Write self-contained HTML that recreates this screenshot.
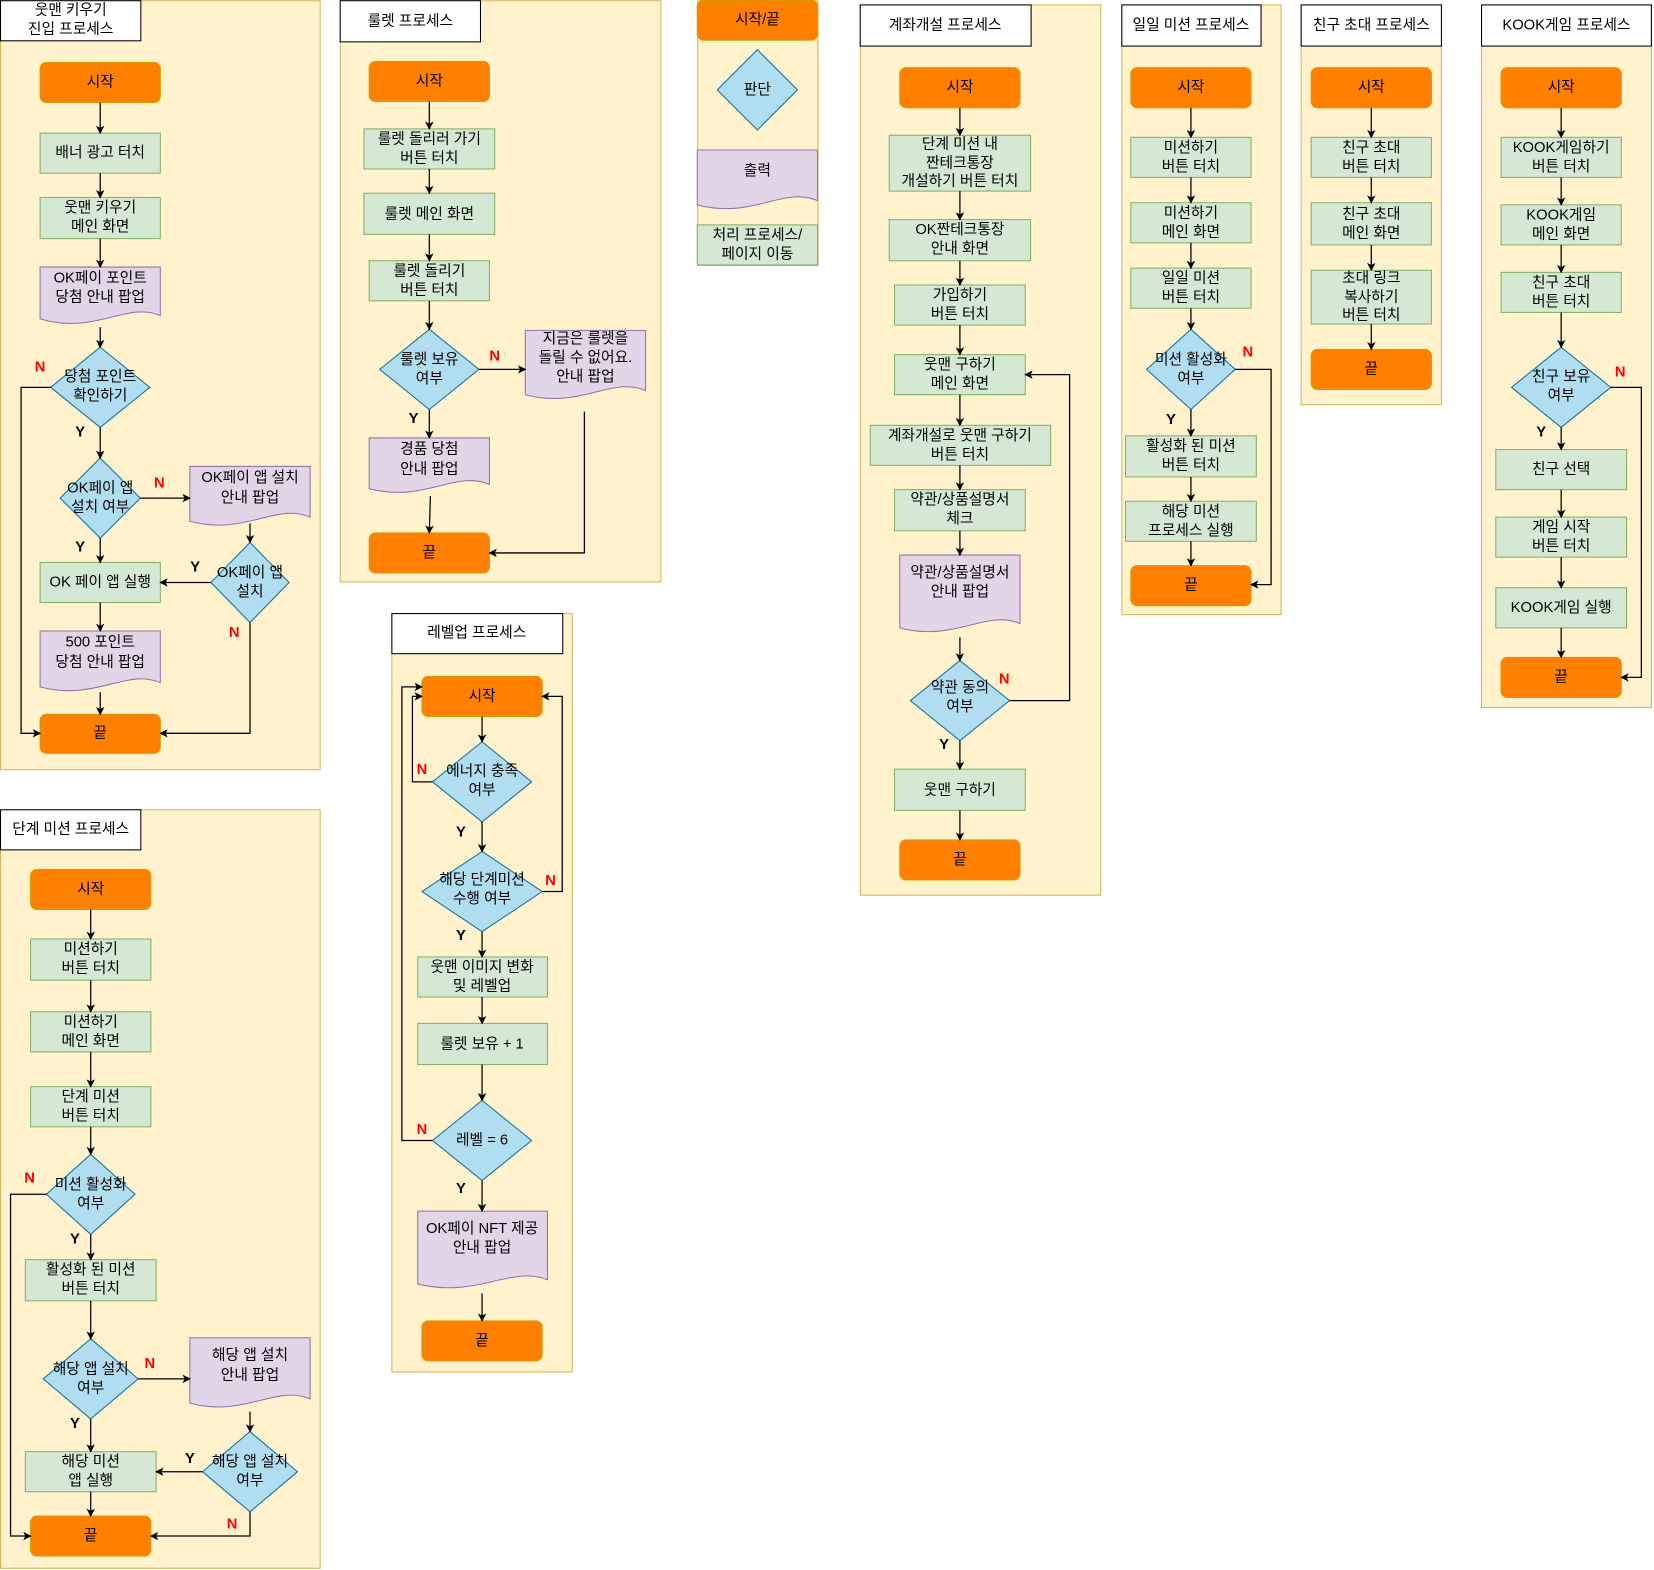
<!DOCTYPE html>
<html><head><meta charset="utf-8"><style>
html,body{margin:0;padding:0;background:#fff}
svg{display:block}
text{font-family:"Liberation Sans","Noto Sans CJK KR",sans-serif;font-size:14px;text-anchor:middle;dominant-baseline:central;fill:#000}
.c{fill:#fff2cc;stroke:#d6b656;stroke-width:1}
.t{fill:#fff;stroke:#000;stroke-width:1}
.o{fill:#ff8000;stroke:#d79b00}
.g{fill:#d5e8d4;stroke:#82b366}
.p{fill:#e1d5e7;stroke:#9673a6}
.d{fill:#b1ddf0;stroke:#10739e}
.e{fill:none;stroke:#000;stroke-width:1.2;marker-end:url(#a)}
.l{fill:none;stroke:#000;stroke-width:1.2}
.n{fill:#f00;font-weight:bold}
.y{font-weight:bold}
</style></head><body>
<svg width="1654" height="1570" viewBox="0 0 1568 1488" xmlns="http://www.w3.org/2000/svg">
<defs><marker id="a" markerWidth="8" markerHeight="8" refX="7" refY="4" orient="auto" markerUnits="userSpaceOnUse"><path d="M0,0 L8,4 L0,8 L2,4 z" fill="#000"/></marker></defs>

<!-- Panel 1 -->
<rect class="c" x="0.5" y="0.5" width="303" height="729"/>
<rect class="t" x="0.5" y="0.5" width="133" height="38"/>
<text x="67" y="10">웃맨 키우기</text><text x="67" y="28">진입 프로세스</text>
<rect class="o" x="38" y="59" width="114" height="38" rx="6"/><text x="95" y="78">시작</text>
<rect class="g" x="38" y="126" width="114" height="38"/><text x="95" y="145">배너 광고 터치</text>
<rect class="g" x="38" y="187" width="114" height="39"/><text x="95" y="197">웃맨 키우기</text><text x="95" y="215">메인 화면</text>
<path class="p" d="M38,253 H152 V299 C120,285 90,318 38,302 Z"/><text x="95" y="264">OK페이 포인트</text><text x="95" y="282">당첨 안내 팝업</text>
<path class="d" d="M95,329 L142,367 L95,405 L48,367 Z"/><text x="95" y="357">당첨 포인트</text><text x="95" y="375">확인하기</text>
<path class="d" d="M95,434 L133,472 L95,510 L57,472 Z"/><text x="95" y="463">OK페이 앱</text><text x="95" y="481">설치 여부</text>
<path class="p" d="M180,442 H294 V490 C262,476 232,508 180,494 Z"/><text x="237" y="453">OK페이 앱 설치</text><text x="237" y="472">안내 팝업</text>
<path class="d" d="M237,514 L274,552 L237,590 L200,552 Z"/><text x="237" y="543">OK페이 앱</text><text x="237" y="561">설치</text>
<rect class="g" x="38" y="533" width="114" height="38"/><text x="95" y="552">OK 페이 앱 실행</text>
<path class="p" d="M38,598 H152 V647 C120,633 90,665 38,651 Z"/><text x="95" y="609">500 포인트</text><text x="95" y="628">당첨 안내 팝업</text>
<rect class="o" x="38" y="677" width="114" height="37" rx="6"/><text x="95" y="695">끝</text>
<path class="e" d="M95,97 V126"/><path class="e" d="M95,164 V187"/><path class="e" d="M95,226 V253"/>
<path class="e" d="M95,310 V329"/><path class="e" d="M95,405 V434"/><path class="e" d="M95,510 V533"/>
<path class="e" d="M95,571 V598"/><path class="e" d="M95,656 V677"/>
<path class="e" d="M48,367 H20 V695 H38"/><path class="e" d="M133,472 H180"/>
<path class="e" d="M237,496 V514"/><path class="e" d="M200,552 H152"/><path class="e" d="M237,590 V695 H152"/>
<text class="n" x="38" y="348">N</text><text class="y" x="76" y="410">Y</text>
<text class="n" x="151" y="458">N</text><text class="y" x="76" y="519">Y</text>
<text class="y" x="185" y="538">Y</text><text class="n" x="222" y="600">N</text>

<!-- Panel 2 -->
<rect class="c" x="322.5" y="0.5" width="304" height="551"/>
<rect class="t" x="322.5" y="0.5" width="133" height="39"/><text x="389" y="20">룰렛 프로세스</text>
<rect class="o" x="350" y="58" width="114" height="38" rx="6"/><text x="407" y="77">시작</text>
<rect class="g" x="345" y="122" width="124" height="38"/><text x="407" y="132">룰렛 돌리러 가기</text><text x="407" y="150">버튼 터치</text>
<rect class="g" x="345" y="183" width="124" height="39"/><text x="407" y="203">룰렛 메인 화면</text>
<rect class="g" x="350" y="247" width="114" height="38"/><text x="407" y="257">룰렛 돌리기</text><text x="407" y="275">버튼 터치</text>
<path class="d" d="M407,312 L454,350 L407,388 L360,350 Z"/><text x="407" y="341">룰렛 보유</text><text x="407" y="359">여부</text>
<path class="p" d="M498,313 H612 V370 C580,356 550,388 498,374 Z"/><text x="555" y="321">지금은 룰렛을</text><text x="555" y="339">돌릴 수 없어요.</text><text x="555" y="357">안내 팝업</text>
<path class="p" d="M350,415 H464 V459 C432,445 402,477 350,463 Z"/><text x="407" y="426">경품 당첨</text><text x="407" y="445">안내 팝업</text>
<rect class="o" x="350" y="505" width="114" height="38" rx="6"/><text x="407" y="524">끝</text>
<path class="e" d="M407,96 V122"/><path class="e" d="M407,160 V183"/><path class="e" d="M407,222 V247"/>
<path class="e" d="M407,285 V312"/><path class="e" d="M407,388 V415"/><path class="e" d="M408,470 L407,505"/>
<path class="e" d="M454,350 H498"/><path class="e" d="M554,390 V524 H464"/>
<text class="n" x="469" y="338">N</text><text class="y" x="392" y="397">Y</text>

<!-- Legend -->
<rect class="c" x="661.5" y="0.5" width="114" height="251"/>
<rect class="o" x="661" y="0" width="114" height="38" rx="6"/><text x="718" y="19">시작/끝</text>
<path class="d" d="M718,47 L756,85 L718,123 L680,85 Z"/><text x="718" y="85">판단</text>
<path class="p" d="M661,142 H775 V190 C743,176 713,208 661,194 Z"/><text x="718" y="162">출력</text>
<rect class="g" x="661" y="213" width="114" height="38"/><text x="718" y="223">처리 프로세스/</text><text x="718" y="241">페이지 이동</text>

<!-- Panel 3 -->
<rect class="c" x="815.5" y="4.5" width="228" height="844"/>
<rect class="t" x="815.5" y="4.5" width="162" height="39"/><text x="896" y="24">계좌개설 프로세스</text>
<rect class="o" x="853" y="64" width="114" height="38" rx="6"/><text x="910" y="83">시작</text>
<rect class="g" x="843" y="128" width="134" height="53"/><text x="910" y="137">단계 미션 내</text><text x="910" y="155">짠테크통장</text><text x="910" y="172">개설하기 버튼 터치</text>
<rect class="g" x="843" y="208" width="134" height="39"/><text x="910" y="218">OK짠테크통장</text><text x="910" y="236">안내 화면</text>
<rect class="g" x="848" y="270" width="124" height="38"/><text x="910" y="280">가입하기</text><text x="910" y="298">버튼 터치</text>
<rect class="g" x="848" y="336" width="124" height="38"/><text x="910" y="346">웃맨 구하기</text><text x="910" y="364">메인 화면</text>
<rect class="g" x="825" y="403" width="171" height="38"/><text x="910" y="413">계좌개설로 웃맨 구하기</text><text x="910" y="431">버튼 터치</text>
<rect class="g" x="848" y="464" width="124" height="39"/><text x="910" y="474">약관/상품설명서</text><text x="910" y="492">체크</text>
<path class="p" d="M853,526 H967 V591 C935,577 905,609 853,595 Z"/><text x="910" y="543">약관/상품설명서</text><text x="910" y="561">안내 팝업</text>
<path class="d" d="M910,626 L957,664 L910,702 L863,664 Z"/><text x="910" y="652">약관 동의</text><text x="910" y="670">여부</text>
<rect class="g" x="848" y="729" width="124" height="39"/><text x="910" y="749">웃맨 구하기</text>
<rect class="o" x="853" y="796" width="114" height="38" rx="6"/><text x="910" y="815">끝</text>
<path class="e" d="M910,102 V128"/><path class="e" d="M910,181 V208"/><path class="e" d="M910,247 V270"/>
<path class="e" d="M910,308 V336"/><path class="e" d="M910,374 V403"/><path class="e" d="M910,441 V464"/>
<path class="e" d="M910,503 V526"/><path class="e" d="M910,604 V626"/><path class="e" d="M910,702 V729"/>
<path class="e" d="M910,768 L910,796"/><path class="e" d="M957,664 H1014 V355 H972"/>
<text class="n" x="952" y="644">N</text><text class="y" x="895" y="706">Y</text>

<!-- Panel 4 -->
<rect class="c" x="1063.5" y="4.5" width="151" height="578"/>
<rect class="t" x="1063.5" y="4.5" width="132" height="39"/><text x="1129" y="24">일일 미션 프로세스</text>
<rect class="o" x="1072" y="64" width="114" height="38" rx="6"/><text x="1129" y="83">시작</text>
<rect class="g" x="1072" y="130" width="114" height="38"/><text x="1129" y="140">미션하기</text><text x="1129" y="158">버튼 터치</text>
<rect class="g" x="1072" y="192" width="114" height="38"/><text x="1129" y="202">미션하기</text><text x="1129" y="220">메인 화면</text>
<rect class="g" x="1072" y="254" width="114" height="38"/><text x="1129" y="264">일일 미션</text><text x="1129" y="282">버튼 터치</text>
<path class="d" d="M1129,312 L1171,350 L1129,388 L1087,350 Z"/><text x="1129" y="341">미션 활성화</text><text x="1129" y="359">여부</text>
<rect class="g" x="1067" y="413" width="124" height="39"/><text x="1129" y="423">활성화 된 미션</text><text x="1129" y="441">버튼 터치</text>
<rect class="g" x="1067" y="475" width="124" height="38"/><text x="1129" y="485">해당 미션</text><text x="1129" y="503">프로세스 실행</text>
<rect class="o" x="1072" y="536" width="114" height="38" rx="6"/><text x="1129" y="555">끝</text>
<path class="e" d="M1129,102 V130"/><path class="e" d="M1129,168 V192"/><path class="e" d="M1129,230 V254"/>
<path class="e" d="M1129,292 V312"/><path class="e" d="M1129,388 V413"/><path class="e" d="M1129,452 V475"/><path class="e" d="M1129,513 V536"/>
<path class="e" d="M1171,350 H1205 V554 H1186"/>
<text class="n" x="1183" y="334">N</text><text class="y" x="1110" y="398">Y</text>

<!-- Panel 5 -->
<rect class="c" x="1233.5" y="4.5" width="133" height="379"/>
<rect class="t" x="1233.5" y="4.5" width="133" height="39"/><text x="1300" y="24">친구 초대 프로세스</text>
<rect class="o" x="1243" y="64" width="114" height="38" rx="6"/><text x="1300" y="83">시작</text>
<rect class="g" x="1243" y="130" width="114" height="38"/><text x="1300" y="140">친구 초대</text><text x="1300" y="158">버튼 터치</text>
<rect class="g" x="1243" y="192" width="114" height="40"/><text x="1300" y="203">친구 초대</text><text x="1300" y="221">메인 화면</text>
<rect class="g" x="1243" y="256" width="114" height="51"/><text x="1300" y="264">초대 링크</text><text x="1300" y="282">복사하기</text><text x="1300" y="299">버튼 터치</text>
<rect class="o" x="1243" y="331" width="114" height="38" rx="6"/><text x="1300" y="350">끝</text>
<path class="e" d="M1300,102 V130"/><path class="e" d="M1300,168 V192"/><path class="e" d="M1300,232 V256"/><path class="e" d="M1300,307 V331"/>

<!-- Panel 6 -->
<rect class="c" x="1404.5" y="4.5" width="161" height="666"/>
<rect class="t" x="1404.5" y="4.5" width="161" height="39"/><text x="1485" y="24">KOOK게임 프로세스</text>
<rect class="o" x="1423" y="64" width="114" height="38" rx="6"/><text x="1480" y="83">시작</text>
<rect class="g" x="1423" y="130" width="114" height="38"/><text x="1480" y="140">KOOK게임하기</text><text x="1480" y="158">버튼 터치</text>
<rect class="g" x="1423" y="194" width="114" height="38"/><text x="1480" y="204">KOOK게임</text><text x="1480" y="222">메인 화면</text>
<rect class="g" x="1423" y="258" width="114" height="38"/><text x="1480" y="268">친구 초대</text><text x="1480" y="286">버튼 터치</text>
<path class="d" d="M1480,329 L1527,367 L1480,405 L1433,367 Z"/><text x="1480" y="357">친구 보유</text><text x="1480" y="375">여부</text>
<rect class="g" x="1418" y="426" width="124" height="38"/><text x="1480" y="445">친구 선택</text>
<rect class="g" x="1418" y="490" width="124" height="38"/><text x="1480" y="500">게임 시작</text><text x="1480" y="518">버튼 터치</text>
<rect class="g" x="1418" y="557" width="124" height="38"/><text x="1480" y="576">KOOK게임 실행</text>
<rect class="o" x="1423" y="623" width="114" height="38" rx="6"/><text x="1480" y="642">끝</text>
<path class="e" d="M1480,102 V130"/><path class="e" d="M1480,168 V194"/><path class="e" d="M1480,232 V258"/>
<path class="e" d="M1480,296 V329"/><path class="e" d="M1480,405 V426"/><path class="e" d="M1480,464 V490"/>
<path class="e" d="M1480,528 V557"/><path class="e" d="M1480,595 V623"/>
<path class="e" d="M1527,367 H1556 V642 H1537"/>
<text class="n" x="1536" y="353">N</text><text class="y" x="1461" y="410">Y</text>

<!-- Panel 7 -->
<rect class="c" x="371.5" y="581.5" width="171" height="719"/>
<rect class="t" x="371.5" y="581.5" width="162" height="38"/><text x="452" y="600">레벨업 프로세스</text>
<rect class="o" x="400" y="641" width="114" height="38" rx="6"/><text x="457" y="660">시작</text>
<path class="d" d="M457,703 L504,741 L457,779 L410,741 Z"/><text x="457" y="731">에너지 충족</text><text x="457" y="749">여부</text>
<path class="d" d="M457,807 L514,845 L457,883 L400,845 Z"/><text x="457" y="834">해당 단계미션</text><text x="457" y="852">수행 여부</text>
<rect class="g" x="396" y="907" width="123" height="38"/><text x="457" y="917">웃맨 이미지 변화</text><text x="457" y="935">및 레벨업</text>
<rect class="g" x="396" y="970" width="123" height="39"/><text x="457" y="990">룰렛 보유 + 1</text>
<path class="d" d="M457,1043 L504,1081 L457,1119 L410,1081 Z"/><text x="457" y="1081">레벨 = 6</text>
<path class="p" d="M396,1148 H519 V1213 C485,1199 452,1231 396,1217 Z"/><text x="457" y="1165">OK페이 NFT 제공</text><text x="457" y="1183">안내 팝업</text>
<rect class="o" x="400" y="1252" width="114" height="38" rx="6"/><text x="457" y="1271">끝</text>
<path class="e" d="M457,679 V703"/><path class="e" d="M457,779 V807"/><path class="e" d="M457,883 V907"/>
<path class="e" d="M457,945 V970"/><path class="e" d="M457,1009 V1043"/><path class="e" d="M457,1119 V1148"/><path class="e" d="M457,1226 V1252"/>
<path class="e" d="M410,741 H391 V660 H400"/><path class="e" d="M514,845 H533 V660 H514"/><path class="e" d="M410,1081 H381 V651 H400"/>
<text class="n" x="400" y="730">N</text><text class="y" x="437" y="789">Y</text>
<text class="n" x="522" y="835">N</text><text class="y" x="437" y="887">Y</text>
<text class="n" x="400" y="1071">N</text><text class="y" x="437" y="1127">Y</text>

<!-- Panel 8 -->
<rect class="c" x="0.5" y="767.5" width="303" height="719"/>
<rect class="t" x="0.5" y="767.5" width="133" height="38"/><text x="67" y="786">단계 미션 프로세스</text>
<rect class="o" x="29" y="824" width="114" height="38" rx="6"/><text x="86" y="843">시작</text>
<rect class="g" x="29" y="890" width="114" height="39"/><text x="86" y="900">미션하기</text><text x="86" y="918">버튼 터치</text>
<rect class="g" x="29" y="959" width="114" height="38"/><text x="86" y="969">미션하기</text><text x="86" y="987">메인 화면</text>
<rect class="g" x="29" y="1030" width="114" height="38"/><text x="86" y="1040">단계 미션</text><text x="86" y="1058">버튼 터치</text>
<path class="d" d="M86,1094 L128,1132 L86,1170 L44,1132 Z"/><text x="86" y="1123">미션 활성화</text><text x="86" y="1141">여부</text>
<rect class="g" x="24" y="1194" width="124" height="39"/><text x="86" y="1204">활성화 된 미션</text><text x="86" y="1222">버튼 터치</text>
<path class="d" d="M86,1269 L131,1307 L86,1345 L41,1307 Z"/><text x="86" y="1298">해당 앱 설치</text><text x="86" y="1316">여부</text>
<path class="p" d="M180,1268 H294 V1326 C262,1312 232,1344 180,1330 Z"/><text x="237" y="1285">해당 앱 설치</text><text x="237" y="1304">안내 팝업</text>
<path class="d" d="M237,1357 L282,1395 L237,1433 L192,1395 Z"/><text x="237" y="1386">해당 앱 설치</text><text x="237" y="1404">여부</text>
<rect class="g" x="24" y="1376" width="124" height="38"/><text x="86" y="1386">해당 미션</text><text x="86" y="1404">앱 실행</text>
<rect class="o" x="29" y="1437" width="114" height="38" rx="6"/><text x="86" y="1456">끝</text>
<path class="e" d="M86,862 V890"/><path class="e" d="M86,929 V959"/><path class="e" d="M86,997 V1030"/>
<path class="e" d="M86,1068 V1094"/><path class="e" d="M86,1170 V1194"/><path class="e" d="M86,1233 V1269"/>
<path class="e" d="M86,1345 V1376"/><path class="e" d="M86,1414 V1437"/>
<path class="e" d="M44,1132 H10 V1456 H29"/><path class="e" d="M131,1307 H180"/>
<path class="e" d="M237,1338 V1357"/><path class="e" d="M192,1395 H148"/><path class="e" d="M237,1433 V1456 H143"/>
<text class="n" x="28" y="1117">N</text><text class="y" x="71" y="1175">Y</text>
<text class="n" x="142" y="1293">N</text><text class="y" x="71" y="1350">Y</text>
<text class="y" x="180" y="1383">Y</text><text class="n" x="220" y="1445">N</text>
</svg>
</body></html>
